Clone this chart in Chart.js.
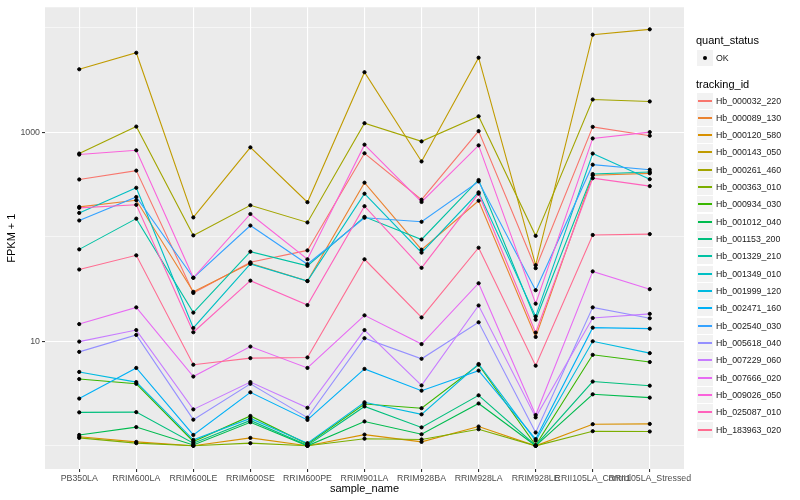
<!DOCTYPE html>
<html>
<head>
<meta charset="utf-8">
<script src="https://cdn.jsdelivr.net/npm/chart.js@4/dist/chart.umd.min.js"></script>
<style>
  body { margin: 0; background: #fff; }
  #wrap { position: relative; width: 800px; height: 500px; font-family: "Liberation Sans", Arial, sans-serif; }
  canvas { position: absolute; left: 0; top: 0; }
  .lg-title { position: absolute; left: 696px; font-size: 11px; color: #000; line-height: 13px; }
  .lg-item { position: absolute; left: 697px; height: 17px; width: 100px; }
  .lg-key { position: absolute; left: 0; top: 0; width: 16px; height: 16px; background: #F2F2F2; }
  .lg-line { position: absolute; left: 1px; width: 14px; top: 7px; height: 2px; }
  .lg-dot { position: absolute; left: 6px; top: 6px; width: 4px; height: 4px; border-radius: 50%; background: #000; }
  .lg-text { position: absolute; left: 19px; top: 0; line-height: 16px; font-size: 8.8px; color: #1a1a1a; white-space: nowrap; }
</style>
</head>
<body>
<div id="wrap">
  <canvas id="myChart" width="800" height="500"></canvas>
  <div id="legend"></div>
</div>
<script>
// サンプル名（x軸）
const samples = ["PB350LA", "RRIM600LA", "RRIM600LE", "RRIM600SE", "RRIM600PE", "RRIM901LA",
  "RRIM928BA", "RRIM928LA", "RRIM928LE", "RRII105LA_Control", "RRII105LA_Stressed"];

// FPKM + 1 の値（系列ごと）
const hb000032_220 = [353, 429, 29, 57, 74, 629, 226, 1024, 50, 1125, 925];
const hb000089_130 = [193, 223, 29.7, 55.8, 37.7, 329, 75.2, 221, 11, 387, 404];
const hb000120_580 = [1.22, 1.09, 1.0, 1.19, 1.0, 1.28, 1.09, 1.53, 1.0, 1.61, 1.62];
const hb000143_050 = [4000, 5750, 153, 716, 214, 3750, 525, 5160, 53.5, 8570, 9640];
const hb000261_460 = [625, 1132, 103, 200, 137, 1220, 817, 1420, 102, 2055, 1968];
const hb000363_010 = [1.19, 1.06, 1.0, 1.06, 1.0, 1.17, 1.15, 1.44, 1.0, 1.38, 1.37];
const hb000934_030 = [4.35, 3.92, 1.1, 1.93, 1.04, 2.51, 2.29, 5.97, 1.01, 7.42, 6.33];
const hb001012_040 = [1.27, 1.51, 1.02, 1.68, 1.0, 1.71, 1.29, 2.54, 1.0, 3.11, 2.89];
const hb001153_200 = [2.09, 2.1, 1.06, 1.75, 1.01, 2.38, 1.5, 3.04, 1.01, 4.12, 3.76];
const hb001329_210 = [75.7, 149, 18.8, 72, 52.6, 155, 94.1, 349, 16.1, 398, 416];
const hb001349_010 = [169, 294, 13.4, 55, 37.7, 258, 70.5, 266, 17.3, 625, 355];
const hb001999_120 = [5.09, 4.07, 1.14, 1.83, 1.06, 2.61, 2.0, 6.06, 1.12, 10, 7.7];
const hb002471_160 = [2.83, 5.56, 1.27, 3.25, 1.77, 5.44, 3.37, 5.24, 1.16, 13.5, 13.2];
const hb002540_030 = [143, 240, 40.5, 128, 54.6, 152, 139, 338, 30.8, 489, 438];
const hb005618_040 = [7.92, 11.5, 1.78, 3.92, 1.86, 10.7, 6.8, 15.2, 1.34, 21.1, 16.6];
const hb007229_060 = [9.93, 12.8, 2.23, 4.07, 2.31, 12.8, 3.78, 22, 1.87, 16.7, 18.3];
const hb007666_020 = [14.6, 21.1, 4.6, 8.9, 5.56, 17.7, 9.4, 35.9, 1.97, 46.6, 31.5];
const hb009026_050 = [611, 671, 40.5, 165, 60.9, 760, 215, 748, 22.9, 872, 1002];
const hb025087_010 = [189, 202, 12.2, 38, 22.2, 196, 50.4, 258, 12.1, 363, 305];
const hb183963_020 = [48.6, 66.4, 5.97, 6.9, 7.0, 60.9, 16.9, 78.5, 5.84, 104, 106];

const trackingIds = ["Hb_000032_220", "Hb_000089_130", "Hb_000120_580", "Hb_000143_050",
  "Hb_000261_460", "Hb_000363_010", "Hb_000934_030", "Hb_001012_040", "Hb_001153_200",
  "Hb_001329_210", "Hb_001349_010", "Hb_001999_120", "Hb_002471_160", "Hb_002540_030",
  "Hb_005618_040", "Hb_007229_060", "Hb_007666_020", "Hb_009026_050", "Hb_025087_010",
  "Hb_183963_020"];
const seriesValues = [hb000032_220, hb000089_130, hb000120_580, hb000143_050, hb000261_460,
  hb000363_010, hb000934_030, hb001012_040, hb001153_200, hb001329_210, hb001349_010,
  hb001999_120, hb002471_160, hb002540_030, hb005618_040, hb007229_060, hb007666_020,
  hb009026_050, hb025087_010, hb183963_020];

// y軸の目盛り
const yBreaks = [1, 10, 100, 1000, 10000];
const yLabelled = [10, 1000];

// ggplot2 の色相パレット
const palette = ["#F8766D", "#EA8331", "#D89000", "#C09B00", "#A3A500", "#7CAE00", "#39B600",
  "#00BB4E", "#00BF7D", "#00C1A3", "#00BFC4", "#00BAE0", "#00B0F6", "#35A2FF", "#9590FF",
  "#C77CFF", "#E76BF3", "#FA62DB", "#FF62BC", "#FF6C91"];

const FONT = "'Liberation Sans', Arial, sans-serif";

// パネル背景
const panelBg = {
  id: "panelBg",
  beforeDraw(chart) {
    const { ctx, chartArea: a } = chart;
    ctx.save();
    ctx.fillStyle = "#EBEBEB";
    ctx.fillRect(a.left, a.top, a.right - a.left, a.bottom - a.top);
    ctx.restore();
  },
};

const datasets = seriesValues.map((vals, i) => ({
  label: trackingIds[i],
  data: vals.map((v, j) => ({ x: j, y: v })),
  borderColor: palette[i],
  borderWidth: 1.1,
  pointRadius: 0,
  tension: 0,
  order: seriesValues.length - i,
}));

// 点は全ての線の上に描く
datasets.push({
  type: "scatter",
  label: "OK",
  data: seriesValues.flatMap((vals) => vals.map((v, j) => ({ x: j, y: v }))),
  backgroundColor: "#000",
  borderColor: "#000",
  pointRadius: 1.6,
  showLine: false,
  order: -1,
});

new Chart(document.getElementById("myChart").getContext("2d"), {
  type: "line",
  data: { datasets: datasets },
  plugins: [panelBg],
  options: {
    responsive: false,
    animation: false,
    events: [],
    layout: { padding: { left: 0, right: 116, top: 5, bottom: 0 } },
    plugins: { legend: { display: false }, tooltip: { enabled: false } },
    scales: {
      x: {
        type: "linear",
        min: -0.6,
        max: 10.6,
        afterBuildTicks: (scale) => {
          scale.ticks = samples.map((_, i) => ({ value: i }));
        },
        afterFit: (scale) => { scale.height = 31; },
        ticks: {
          autoSkip: false,
          maxRotation: 0,
          minRotation: 0,
          padding: 1,
          color: "#4D4D4D",
          font: { family: FONT, size: 8.8 },
          callback: (v) => samples[v] ?? "",
        },
        grid: { color: "#FFFFFF", lineWidth: 1.1, tickLength: 3, tickColor: "#333333" },
        border: { display: false },
        title: {
          display: true,
          text: "sample_name",
          color: "#000",
          font: { family: FONT, size: 11 },
          padding: { top: 0, bottom: 4 },
        },
      },
      y: {
        type: "logarithmic",
        min: Math.pow(10, -0.2),
        max: Math.pow(10, 4.195),
        afterBuildTicks: (scale) => {
          scale.ticks = yBreaks.map((v) => ({ value: v }));
        },
        afterFit: (scale) => { scale.width = 45; },
        ticks: {
          padding: 2,
          color: "#4D4D4D",
          font: { family: FONT, size: 8.8 },
          callback: (v) => (yLabelled.includes(v) ? String(v) : ""),
        },
        grid: {
          color: "#FFFFFF",
          lineWidth: (c) => (c.tick && yLabelled.includes(c.tick.value) ? 1.1 : 0.55),
          tickLength: 3,
          tickColor: (c) => (c.tick && yLabelled.includes(c.tick.value) ? "#333333" : "rgba(0,0,0,0)"),
        },
        border: { display: false },
        title: {
          display: true,
          text: "FPKM + 1",
          color: "#000",
          font: { family: FONT, size: 11 },
          padding: { top: 5, bottom: 0 },
        },
      },
    },
  },
});

// 凡例（HTML）
const legend = document.getElementById("legend");
function addTitle(text, top) {
  const d = document.createElement("div");
  d.className = "lg-title";
  d.style.top = top + "px";
  d.textContent = text;
  legend.appendChild(d);
}
function addItem(text, top, color) {
  const item = document.createElement("div");
  item.className = "lg-item";
  item.style.top = Math.round(top) + "px";
  const key = document.createElement("div");
  key.className = "lg-key";
  const mark = document.createElement("div");
  if (color) {
    mark.className = "lg-line";
    mark.style.background = color;
  } else {
    mark.className = "lg-dot";
  }
  key.appendChild(mark);
  const label = document.createElement("div");
  label.className = "lg-text";
  label.textContent = text;
  item.appendChild(key);
  item.appendChild(label);
  legend.appendChild(item);
}
addTitle("quant_status", 34);
addItem("OK", 49.5, null);
addTitle("tracking_id", 77.5);
trackingIds.forEach((id, i) => addItem(id, 92.5 + 17.33 * i, palette[i]));
</script>
</body>
</html>
